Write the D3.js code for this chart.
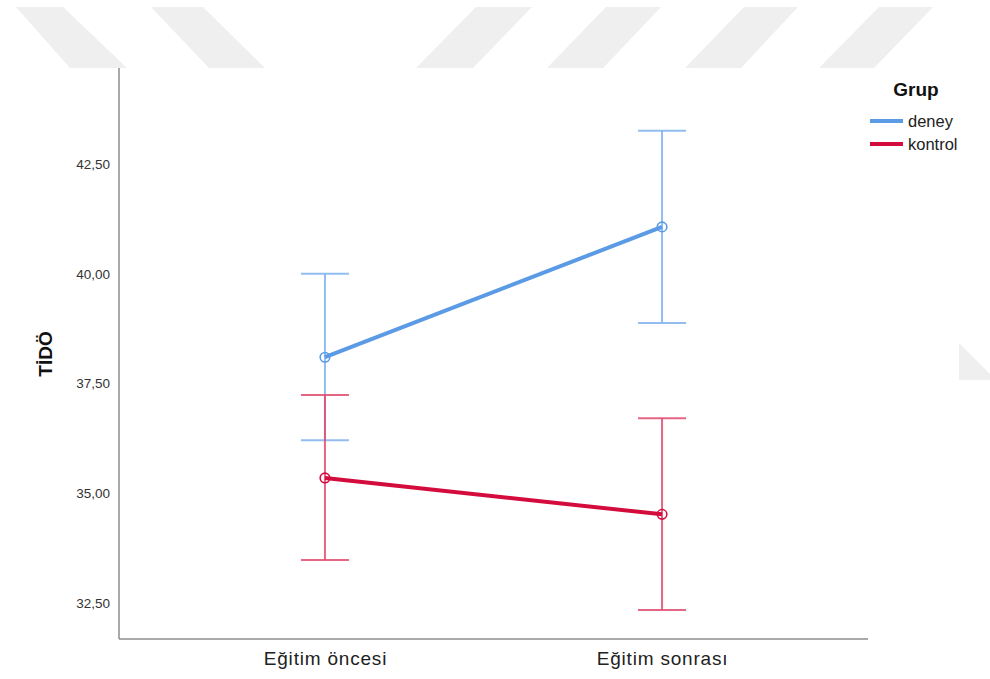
<!DOCTYPE html>
<html>
<head>
<meta charset="utf-8">
<script src="https://cdn.jsdelivr.net/npm/d3@7"></script>
<style>
  html, body { margin: 0; padding: 0; background: #fff; }
  svg { display: block; font-family: "Liberation Sans", Arial, sans-serif; }
</style>
</head>
<body>
<svg id="chart" width="990" height="679"></svg>
<script>
// ---- data ----
const categories = ["Eğitim öncesi", "Eğitim sonrası"];
const groups = ["deney", "kontrol"];
const deneyMean = [38.10, 41.07];
const deneyLow  = [36.21, 38.88];
const deneyHigh = [40.00, 43.26];
const kontrolMean = [35.35, 34.52];
const kontrolLow  = [33.48, 32.34];
const kontrolHigh = [37.24, 36.71];
const yTicks = [32.5, 35.0, 37.5, 40.0, 42.5];
const yDomain = [31.68, 44.69];
const yTitle = "TİDÖ";
const legendTitle = "Grup";

const colors = { deney: "#5b9be6", kontrol: "#d40b3d" };
const barColors = { deney: "#7fb1ee", kontrol: "#e04a6e" };

const series = [
  { name: "deney", mean: deneyMean, low: deneyLow, high: deneyHigh },
  { name: "kontrol", mean: kontrolMean, low: kontrolLow, high: kontrolHigh }
];

// ---- layout ----
const svg = d3.select("#chart");
const mLeft = 119, mRight = 868, mTop = 68, mBottom = 639;

// watermark decoration (background)
const wm = [
  [[16,7],[63,7],[127,68],[70,68]],
  [[151,7],[203,7],[265,68],[209,68]],
  [[476,7],[532,7],[473,68],[416,68]],
  [[606,7],[661,7],[603,68],[547,68]],
  [[744,7],[798,7],[741,68],[685,68]],
  [[879,7],[933,7],[874,68],[819,68]],
  [[959,343],[990,374],[990,380],[959,380]]
];
svg.append("g").selectAll("polygon").data(wm).join("polygon")
  .attr("points", d => d.map(p => p.join(",")).join(" "))
  .attr("fill", "#efefef");

const x = d3.scalePoint().domain(categories).range([mLeft, mRight]).padding(0.611);
const y = d3.scaleLinear().domain(yDomain).range([mBottom, mTop]);

// axes
const fmt = d => d3.format(".2f")(d).replace(".", ",");
const yAxis = svg.append("g").attr("transform", `translate(${mLeft},0)`)
  .call(d3.axisLeft(y).tickValues(yTicks).tickSize(0).tickPadding(9).tickFormat(fmt));
yAxis.select(".domain").attr("stroke", "#8c8c8c").attr("stroke-width", 1.5)
  .attr("d", `M0,${mTop}V${mBottom}`);
yAxis.selectAll("text").attr("font-size", 13.5).attr("fill", "#333")
  .attr("font-family", "Liberation Sans, Arial, sans-serif");

const xAxis = svg.append("g").attr("transform", `translate(0,${mBottom})`)
  .call(d3.axisBottom(x).tickSize(0).tickPadding(13));
xAxis.select(".domain").attr("stroke", "#8c8c8c").attr("stroke-width", 1.5)
  .attr("d", `M${mLeft},0H${mRight}`);
xAxis.selectAll("text").attr("font-size", 19).attr("fill", "#222")
  .attr("letter-spacing", "0.8px")
  .attr("font-family", "Liberation Sans, Arial, sans-serif");

// y title
svg.append("text")
  .attr("transform", `translate(52,354) rotate(-90)`)
  .attr("text-anchor", "middle")
  .attr("font-size", 19).attr("font-weight", "bold").attr("fill", "#111")
  .text(yTitle);

// error bars
const cap = 24;
series.forEach(s => {
  const g = svg.append("g").attr("stroke", barColors[s.name]).attr("stroke-width", 2)
    .attr("stroke-opacity", 0.85).attr("fill", "none");
  categories.forEach((c, i) => {
    const cx = x(c);
    g.append("line").attr("x1", cx).attr("x2", cx).attr("y1", y(s.low[i])).attr("y2", y(s.high[i]));
    g.append("line").attr("x1", cx - cap).attr("x2", cx + cap).attr("y1", y(s.low[i])).attr("y2", y(s.low[i]));
    g.append("line").attr("x1", cx - cap).attr("x2", cx + cap).attr("y1", y(s.high[i])).attr("y2", y(s.high[i]));
  });
});

// mean lines and markers
const line = d3.line().x((d, i) => x(categories[i])).y(d => y(d));
series.forEach(s => {
  svg.append("path").datum(s.mean).attr("d", line)
    .attr("fill", "none").attr("stroke", colors[s.name]).attr("stroke-width", 4);
  svg.append("g").selectAll("circle").data(s.mean).join("circle")
    .attr("cx", (d, i) => x(categories[i])).attr("cy", d => y(d)).attr("r", 4.8)
    .attr("fill", "none").attr("stroke", colors[s.name]).attr("stroke-width", 1.6);
});

// legend
svg.append("text").attr("x", 916).attr("y", 96).attr("text-anchor", "middle")
  .attr("font-size", 19).attr("font-weight", "bold").attr("fill", "#111").text(legendTitle);
const lg = svg.append("g").selectAll("g").data(groups).join("g")
  .attr("transform", (d, i) => `translate(870,${121 + i * 23})`);
lg.append("line").attr("x1", 0).attr("x2", 33).attr("y1", 0).attr("y2", 0)
  .attr("stroke", d => colors[d]).attr("stroke-width", 4);
lg.append("text").attr("x", 38).attr("y", 5.5).attr("font-size", 16.5).attr("fill", "#222").text(d => d);
</script>
</body>
</html>
